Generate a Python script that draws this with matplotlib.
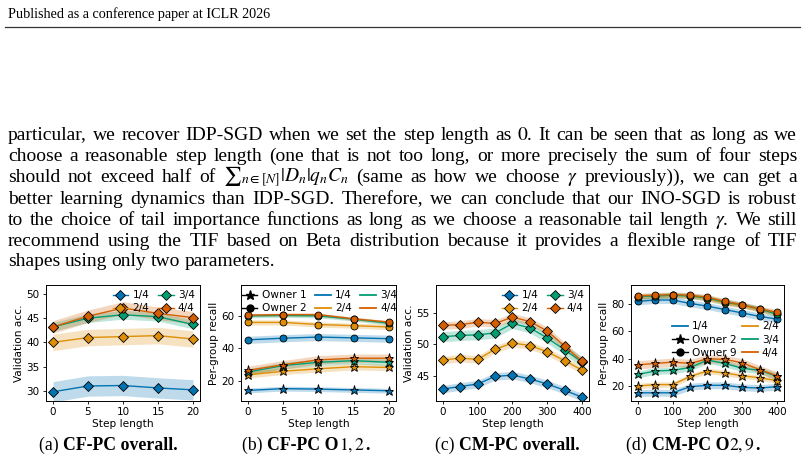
import matplotlib
matplotlib.use("Agg")
import matplotlib.pyplot as plt
from matplotlib.lines import Line2D
import numpy as np

plt.rcParams['mathtext.fontset'] = 'stix'

W, H = 804, 461

quarters = ["1/4", "2/4", "3/4", "4/4"]
colors = ["#0173b2", "#de8f05", "#029e73", "#d55e00"]

# (a) CF-PC overall
steps_cf = [0, 5, 10, 15, 20]
a_acc = [
    [29.8, 31.0, 31.1, 30.6, 30.2],
    [40.0, 41.0, 41.2, 41.4, 40.7],
    [43.2, 45.0, 45.7, 45.3, 43.7],
    [43.2, 45.4, 47.1, 46.0, 45.1],
]
a_std = [2.1, 1.7, 0.9, 1.3]

# (b) CF-PC owners 1, 2
b_owner1 = [
    [14.2, 15.3, 15.0, 14.5, 14.0],
    [23.8, 26.0, 27.5, 28.8, 28.3],
    [25.5, 29.5, 31.5, 32.5, 31.5],
    [26.5, 30.0, 33.0, 34.0, 34.0],
]
b_owner2 = [
    [45.3, 46.3, 47.0, 46.5, 46.0],
    [56.0, 56.0, 54.7, 54.0, 53.2],
    [60.0, 60.3, 60.0, 58.0, 55.5],
    [60.5, 60.8, 60.8, 58.2, 56.2],
]
b_std1 = [1.5, 2.0, 2.0, 2.6]
b_std2 = [2.2, 1.6, 1.2, 1.0]

# (c) CM-PC overall
steps_cm = [0, 50, 100, 150, 200, 250, 300, 350, 400]
c_acc = [
    [42.9, 43.3, 43.7, 44.9, 45.1, 44.5, 43.7, 42.7, 41.6],
    [47.5, 47.8, 47.6, 49.2, 50.2, 49.8, 48.8, 47.4, 45.9],
    [51.2, 51.4, 51.5, 51.8, 53.3, 52.6, 51.0, 49.1, 47.2],
    [53.0, 53.1, 53.5, 53.3, 54.3, 53.6, 52.1, 49.7, 47.3],
]
c_std = [0.6, 0.6, 0.8, 0.6]

# (d) CM-PC owners 2, 9
d_owner2 = [
    [15.0, 15.0, 15.0, 19.5, 20.5, 20.5, 19.0, 18.5, 19.5],
    [20.0, 21.0, 21.0, 27.0, 31.0, 29.5, 27.5, 26.0, 24.0],
    [28.5, 31.0, 31.5, 33.5, 39.0, 36.5, 33.0, 31.5, 27.0],
    [35.5, 36.5, 37.5, 36.5, 40.0, 39.5, 37.0, 32.0, 27.5],
]
d_owner9 = [
    [82.0, 83.0, 83.0, 80.5, 78.5, 76.0, 73.5, 71.0, 69.0],
    [85.5, 86.0, 86.5, 86.0, 84.0, 81.0, 79.0, 76.0, 73.0],
    [85.5, 86.0, 86.5, 86.0, 84.5, 81.5, 79.5, 76.5, 72.5],
    [86.0, 86.5, 87.0, 86.5, 85.0, 82.0, 79.5, 76.5, 74.0],
]
d_std2 = [2.5, 2.0, 2.5, 3.0]
d_std9 = [2.5, 2.0, 2.0, 2.0]

header = "Published as a conference paper at ICLR 2026"
para = [
    r"particular, we recover IDP-SGD when we set the step length as $0$. It can be seen that as long as we",
    r"choose a reasonable step length (one that is not too long, or more precisely the sum of four steps",
    r"should not exceed half of $∑_{n\in[N]}|D_n|q_nC_n$ (same as how we choose $\gamma$ previously)), we can get a",
    r"better learning dynamics than IDP-SGD. Therefore, we can conclude that our INO-SGD is robust",
    r"to the choice of tail importance functions as long as we choose a reasonable tail length $\gamma$. We still",
    r"recommend using the TIF based on Beta distribution because it provides a flexible range of TIF",
    r"shapes using only two parameters.",
]
para_y = [140, 161, 182, 204, 225, 246, 266]
captions = [
    [("(a) ", "normal"), ("CF-PC overall.", "bold")],
    [("(b) ", "normal"), ("CF-PC O", "bold"), (r"$1, 2$", "normal"), (".", "bold")],
    [("(c) ", "normal"), ("CM-PC overall.", "bold")],
    [("(d) ", "normal"), ("CM-PC O", "bold"), (r"$2, 9$", "normal"), (".", "bold")],
]
cap_x = [108, 306, 507, 693]

fig = plt.figure(figsize=(W / 100, H / 100), dpi=100)
renderer = fig.canvas.get_renderer()
serif = "Liberation Serif"


def fx(px):
    return px / W


def fy(py):
    return 1 - py / H


# header
fig.text(fx(8), fy(18), header, family=serif, size=10.2, va="baseline")
fig.add_artist(Line2D([fx(5), fx(800)], [fy(27), fy(27)], color="#333333",
                      lw=0.9, transform=fig.transFigure))

# justified paragraph
for i, (line, y) in enumerate(zip(para, para_y)):
    words = line.split(" ")
    ts = [fig.text(0, fy(y), w, family=serif, size=14, va="baseline") for w in words]
    ws = [t.get_window_extent(renderer).width for t in ts]
    if i == len(para) - 1:
        gap = 4.5
    else:
        gap = (789 - sum(ws)) / (len(words) - 1)
    x = 8
    for t, w in zip(ts, ws):
        t.set_x(fx(x))
        x += w + gap


def add_axes(l, r, t=285, b=401):
    return fig.add_axes([fx(l), fy(b), (r - l) / W, (b - t) / H])


def style(ax, xticks, ylabel):
    ax.set_xticks(xticks)
    ax.tick_params(labelsize=7.5, length=2.5, width=0.6, pad=2)
    for s in ax.spines.values():
        s.set_linewidth(0.7)
    ax.set_xlabel("Step length", size=7.6, labelpad=1)
    ax.set_ylabel(ylabel, size=7.6, labelpad=2)


def band(ax, x, y, s, c, marker, ms):
    y = np.array(y)
    ax.fill_between(x, y - s, y + s, color=c, alpha=0.25, lw=0)
    ax.plot(x, y, color=c, lw=1, marker=marker, ms=ms, mec="black", mew=0.6)


leg_kw = dict(frameon=False, fontsize=7.6, handlelength=1.5, handletextpad=0.4,
              columnspacing=0.8, labelspacing=0.3, borderaxespad=0.1)

# (a)
ax = add_axes(46, 200)
for q, c, y, s in zip(quarters, colors, a_acc, a_std):
    band(ax, steps_cf, y, s, c, "D", 4.8)
    ax.lines[-1].set_label(q)
ax.set_ylim(27.9, 51.85)
ax.set_yticks([30, 35, 40, 45, 50])
style(ax, [0, 5, 10, 15, 20], "Validation acc.")
ax.legend(ncol=2, loc="upper right", bbox_to_anchor=(1.0, 1.0), **leg_kw)

# (b)
ax = add_axes(241, 396)
for c, y1, y2, s1, s2 in zip(colors, b_owner1, b_owner2, b_std1, b_std2):
    band(ax, steps_cf, y1, s1, c, "*", 6.5)
    band(ax, steps_cf, y2, s2, c, "o", 5)
ax.set_ylim(7.7, 79)
ax.set_yticks([20, 40, 60])
style(ax, [0, 5, 10, 15, 20], "Per-group recall")
h = [Line2D([], [], color="black", marker="*", ms=6.5, lw=1),
     Line2D([], [], color="black", marker="o", ms=5, lw=1)]
h += [Line2D([], [], color=c, lw=1.3) for c in colors]
ax.legend(h, ["Owner 1", "Owner 2"] + quarters, ncol=3, loc="upper left",
          bbox_to_anchor=(-0.03, 1.0), **leg_kw)

# (c)
ax = add_axes(436, 589)
for q, c, y, s in zip(quarters, colors, c_acc, c_std):
    band(ax, steps_cm, y, s, c, "D", 4.8)
    ax.lines[-1].set_label(q)
ax.set_ylim(41.0, 59.4)
ax.set_yticks([45, 50, 55])
style(ax, [0, 100, 200, 300, 400], "Validation acc.")
ax.legend(ncol=2, loc="upper right", bbox_to_anchor=(1.0, 1.0), **leg_kw)

# (d)
ax = add_axes(631, 784)
for c, y2, y9, s2, s9 in zip(colors, d_owner2, d_owner9, d_std2, d_std9):
    band(ax, steps_cm, y2, s2, c, "*", 6.5)
    band(ax, steps_cm, y9, s9, c, "o", 5)
ax.set_ylim(9, 94)
ax.set_yticks([20, 40, 60, 80])
style(ax, [0, 100, 200, 300, 400], "Per-group recall")
hq = [Line2D([], [], color=c, lw=1.3) for c in colors]
ho = [Line2D([], [], color="black", marker="*", ms=6.5, lw=1),
      Line2D([], [], color="black", marker="o", ms=5, lw=1)]
ax.legend([hq[0], ho[0], ho[1], hq[1], hq[2], hq[3]],
          ["1/4", "Owner 2", "Owner 9", "2/4", "3/4", "4/4"], ncol=2,
          loc="center right", bbox_to_anchor=(1.0, 0.53),
          **dict(leg_kw, columnspacing=0.5))

# captions with mixed weights
for runs, cx in zip(captions, cap_x):
    ts = [fig.text(0, fy(450), s, family=serif, size=12.8, weight=wt, va="baseline")
          for s, wt in runs]
    ws = [t.get_window_extent(renderer).width for t in ts]
    x = cx - sum(ws) / 2
    for t, w in zip(ts, ws):
        t.set_x(fx(x))
        x += w

fig.savefig("out.png", dpi=100)
